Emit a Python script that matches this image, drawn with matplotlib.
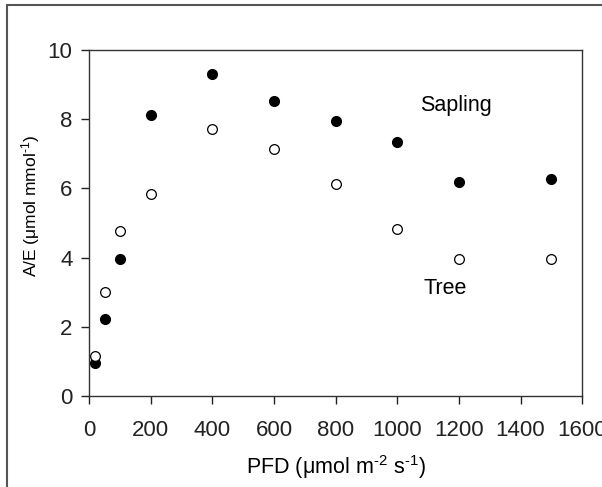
import matplotlib.pyplot as plt
from matplotlib.patches import Rectangle

plt.rcParams['font.family'] = ['Liberation Sans', 'DejaVu Sans']
plt.rcParams['mathtext.fontset'] = 'custom'
plt.rcParams['mathtext.rm'] = 'Liberation Sans'
plt.rcParams['mathtext.it'] = 'Liberation Sans'

# PFD levels and A/E values
pfd = [20, 50, 100, 200, 400, 600, 800, 1000, 1200, 1500]
sapling = [0.95, 2.22, 3.97, 8.12, 9.30, 8.54, 7.94, 7.35, 6.19, 6.27]
tree = [1.15, 3.00, 4.77, 5.84, 7.71, 7.13, 6.14, 4.84, 3.95, 3.95]

fig = plt.figure(figsize=(6.02, 4.87), dpi=100)
ax = fig.add_axes([0.148, 0.187, 0.819, 0.710])

ax.plot(pfd, sapling, 'o', color='black', ms=7, clip_on=False)
ax.plot(pfd, tree, 'o', mfc='white', mec='black', mew=0.9, ms=7, clip_on=False)

ax.text(1191, 8.4, "Sapling", fontsize=15.5, ha='center', va='center')
ax.text(1155, 3.12, "Tree", fontsize=15.5, ha='center', va='center')

ax.set_xlim(0, 1600)
ax.set_ylim(0, 10)
ax.set_xticks(range(0, 1601, 200))
ax.set_yticks(range(0, 11, 2))
ax.tick_params(direction='out', length=6, width=1, labelsize=16, colors='#222222')
ax.tick_params(axis='x', pad=11)
ax.tick_params(axis='y', pad=6)
ax.set_xlabel(r"PFD (μmol m$^{\text{-}2}$ s$^{\text{-}1}$)", fontsize=15.5, labelpad=9)
ax.set_ylabel(r"A/E (μmol mmol$^{\text{-}1}$)", fontsize=12.5)
ax.yaxis.set_label_coords(-0.095, 0.55)
for s in ax.spines.values():
    s.set_linewidth(1.0)
    s.set_color('#333333')

# outer frame around the figure (cut at right and bottom)
fig.patches.append(Rectangle((7 / 602, -0.1), 1.2, (487 - 5) / 487 + 0.1,
                             transform=fig.transFigure, fill=False,
                             edgecolor='#555555', linewidth=1.5, clip_on=False))

fig.savefig("out.png", dpi=100)
